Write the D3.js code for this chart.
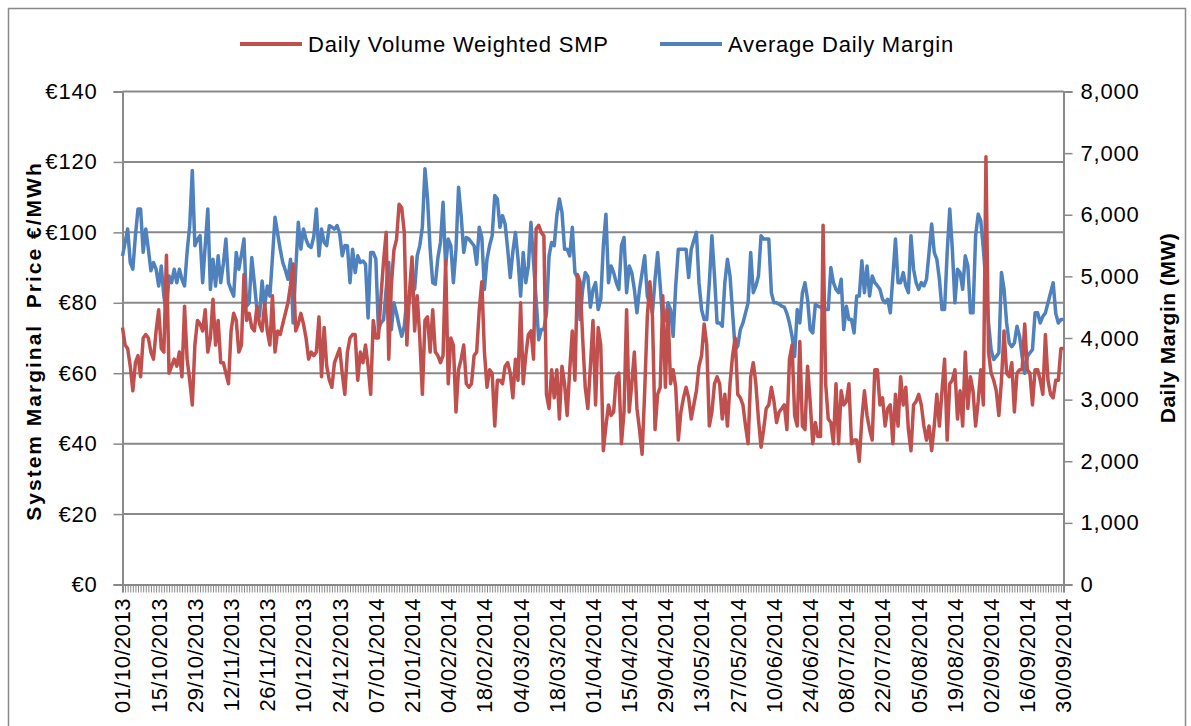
<!DOCTYPE html>
<html>
<head>
<meta charset="utf-8">
<script src="https://cdn.jsdelivr.net/npm/d3@7"></script>
<style>
  body { margin: 0; background: #fff; }
  svg text { font-family: "Liberation Sans", Arial, sans-serif; fill: #000; }
</style>
</head>
<body>
<svg id="chart" width="1191" height="726"></svg>
<script>
// Series names
var seriesNames = ["Daily Volume Weighted SMP", "Average Daily Margin"];

// Tick labels on the date axis (one every 14 days)
var dateLabels = ["01/10/2013", "15/10/2013", "29/10/2013", "12/11/2013", "26/11/2013", "10/12/2013", "24/12/2013",
  "07/01/2014", "21/01/2014", "04/02/2014", "18/02/2014", "04/03/2014", "18/03/2014", "01/04/2014", "15/04/2014",
  "29/04/2014", "13/05/2014", "27/05/2014", "10/06/2014", "24/06/2014", "08/07/2014", "22/07/2014", "05/08/2014",
  "19/08/2014", "02/09/2014", "16/09/2014", "30/09/2014"];

var priceTicks = [0, 20, 40, 60, 80, 100, 120, 140];
var marginTicks = [0, 1000, 2000, 3000, 4000, 5000, 6000, 7000, 8000];

// Daily Volume Weighted SMP (€/MWh), 01/10/2013 .. 30/09/2014
var smp = [
  73, 68, 67, 62, 55, 63, 65, 59, 70, 71, 70, 66, 64, 72, 78, 67, 66, 93.5, 60, 62,
  64, 62, 66, 59, 79, 64, 58, 51, 68, 75, 74, 72, 78, 66, 70, 81, 68, 75, 63, 63,
  60, 57, 72, 77, 75, 66, 68, 88, 75, 77, 73, 72, 79, 74, 72, 80, 72, 68, 82, 66,
  72, 71, 74, 77, 80, 85, 91, 72, 74, 77, 74, 70, 64, 66, 65, 66, 76, 59, 73, 62,
  58, 56, 63, 65, 67, 60, 54, 66, 70, 71, 71, 58, 66, 63, 68, 62, 54, 75, 70, 70,
  82, 92, 100, 64, 85, 95, 98, 108, 107, 100, 68, 83, 93, 72, 82, 70, 54, 75, 76, 66,
  78, 66, 65, 63, 65, 92, 57, 70, 68, 49, 61, 64, 68, 57, 56, 57, 65, 66, 78, 86,
  66, 56, 61, 60, 45, 58, 58, 57, 62, 63, 60, 53, 64, 58, 80, 57, 65, 71, 72, 64,
  101, 102, 100, 99, 54, 50, 61, 53, 61, 47, 62, 57, 48, 61, 72, 58, 88, 86, 70, 56,
  50, 62, 75, 51, 73, 68, 38, 45, 51, 48, 49, 59, 60, 40, 49, 78, 49, 57, 66, 50,
  44, 37, 55, 76, 86, 76, 44, 54, 56, 82, 56, 78, 57, 61, 56, 41, 49, 53, 56, 53,
  47, 51, 55, 62, 65, 74, 68, 45, 49, 57, 59, 57, 47, 54, 45, 57, 65, 70, 54, 53,
  51, 45, 40, 59, 63, 57, 47, 39, 44, 50, 51, 56, 52, 46, 49, 50, 51, 44, 64, 68,
  48, 45, 69, 45, 44, 62, 52, 40, 46, 42, 42, 102, 57, 47, 46, 40, 57, 40, 55, 51,
  52, 57, 40, 41, 41, 35, 47, 55, 48, 44, 41, 61, 61, 51, 53, 45, 50, 51, 40, 54,
  45, 59, 51, 56, 44, 38, 51, 52, 54, 51, 45, 41, 45, 38, 45, 54, 45, 55, 64, 41,
  57, 58, 61, 47, 55, 45, 66, 50, 59, 55, 45, 52, 61, 51, 121.5, 66, 60, 58, 55, 48,
  58, 72, 60, 59, 63, 49, 60, 61, 61, 74, 61, 60, 51, 61, 61, 58, 54, 71, 58, 54,
  53, 58, 58, 67, 67
];

// Average Daily Margin (MW), same days
var margin = [
  5330, 5550, 5770, 5225, 5116, 5660, 6095, 6095, 5390, 5770, 5440, 5090, 5225, 5116, 4844, 5170, 4680, 4408, 5007, 4898,
  5116, 4898, 5116, 4950, 4844, 5400, 5823, 6720, 5497, 5600, 5660, 4898, 5500, 6095, 4789, 5279, 4844, 5333, 4898, 5200,
  5605, 4898, 4780, 4680, 5388, 5116, 5350, 5605, 4517, 4571, 5306, 4900, 4462, 4353, 4925, 4517, 4844, 4680, 5300, 5959,
  5700, 5442, 5225, 5100, 4953, 5279, 4244, 5100, 5877, 5442, 5768, 5600, 5497, 5470, 5650, 6095, 5333, 5768, 5550, 5500,
  5823, 5800, 5768, 5823, 5700, 5333, 5500, 5497, 4898, 5442, 5061, 5333, 5225, 5250, 5200, 4326, 5388, 5388, 5279, 4136,
  4244, 4299, 4800, 5225, 4136, 4571, 4400, 4200, 4027, 4190, 4626, 4571, 5061, 4789, 5333, 5500, 5800, 6748, 6257, 5442,
  4898, 4871, 5300, 5551, 6203, 5170, 5605, 5497, 4898, 5442, 6448, 5986, 5388, 5632, 5605, 5550, 5497, 5197, 5796, 5632,
  4789, 5279, 5500, 5660, 6312, 6257, 5796, 5986, 5850, 5442, 4980, 5400, 5714, 5279, 4680, 5388, 4898, 5170, 5877, 5225,
  4626, 3970, 4136, 4136, 4400, 5333, 5551, 5497, 5986, 6257, 6040, 5442, 5442, 5333, 5796, 5061, 4980, 4299, 4789, 5061,
  5000, 4500, 4789, 4898, 4462, 4626, 5497, 6010, 4898, 5170, 5061, 4898, 4789, 5497, 5632, 4735, 5170, 5061, 4789, 4408,
  4789, 5061, 5333, 4680, 4571, 4408, 4950, 5388, 4850, 4244, 4299, 4571, 4462, 4027, 4850, 5442, 5442, 5442, 5442, 4980,
  5442, 5580, 5714, 4898, 4462, 4299, 4299, 4898, 5660, 5007, 4244, 4244, 4190, 4898, 5279, 5007, 4408, 3810, 3870, 4136,
  4244, 4408, 4571, 5388, 4735, 4844, 5007, 5660, 5605, 5605, 5605, 4735, 4571, 4571, 4550, 4517, 4500, 4400, 4244, 4027,
  3700, 4462, 4244, 4735, 4898, 4626, 4136, 4082, 4544, 4517, 4500, 4462, 4462, 4462, 5143, 4898, 4789, 4735, 4953, 4136,
  4517, 4299, 4299, 4082, 4680, 4680, 5252, 4735, 5170, 4680, 5007, 4898, 4850, 4789, 4626, 4571, 4626, 4408, 5000, 5605,
  4898, 4898, 5061, 4844, 4735, 5660, 5116, 4898, 4789, 4898, 4844, 4950, 5388, 5850, 5388, 5279, 4953, 4462, 4462, 5388,
  6095, 5442, 4571, 5116, 5061, 4789, 5333, 5170, 4408, 4408, 5660, 6010, 5900, 5442, 4898, 4244, 3810, 3650, 3700, 3760,
  5061, 4789, 4244, 3918, 3860, 3918, 4190, 4027, 3700, 3429, 3700, 3760, 3810, 4408, 4408, 4244, 4350, 4408, 4571, 4735,
  4898, 4400, 4244, 4299, 4299
];

var days = d3.range(smp.length);
var colors = ["#C0504D", "#4F81BD"];
var grey = "#898989";

var svg = d3.select("#chart");

// plot area
var plotLeft = 122.5, plotRight = 1063.5, plotTop = 91.5, plotBottom = 584.5;

var x = d3.scaleLinear().domain([0, days.length - 1]).range([plotLeft, plotRight]);
var yPrice = d3.scaleLinear().domain([0, 140]).range([plotBottom, plotTop]);
var yMargin = d3.scaleLinear().domain([0, 8000]).range([plotBottom, plotTop]);

// outer frame
svg.append("rect")
  .attr("x", 8.5).attr("y", 8.5)
  .attr("width", 1177).attr("height", 760)
  .attr("fill", "#fff")
  .attr("stroke", grey).attr("stroke-width", 1.5);

// gridlines
svg.append("g")
  .selectAll("line")
  .data(priceTicks.slice(1))
  .enter().append("line")
  .attr("x1", plotLeft).attr("x2", plotRight)
  .attr("y1", d => yPrice(d)).attr("y2", d => yPrice(d))
  .attr("stroke", grey).attr("stroke-width", 2);

// left axis
var gLeft = svg.append("g")
  .attr("transform", "translate(" + plotLeft + ",0)")
  .call(d3.axisLeft(yPrice).tickValues(priceTicks).tickFormat(d => "€" + d).tickSize(9).tickPadding(16));

// right axis
var gRight = svg.append("g")
  .attr("transform", "translate(" + plotRight + ",0)")
  .call(d3.axisRight(yMargin).tickValues(marginTicks).tickFormat(d3.format(",")).tickSize(9).tickPadding(8));

// bottom axis, one tick per day
var gBottom = svg.append("g")
  .attr("transform", "translate(0," + plotBottom + ")")
  .call(d3.axisBottom(x).tickValues(days).tickSize(8).tickFormat(""));

[gLeft, gRight, gBottom].forEach(function (g) {
  g.select(".domain").attr("stroke", grey).attr("stroke-width", 2);
  g.selectAll(".tick line").attr("stroke", grey).attr("stroke-width", 1.5);
});
gBottom.selectAll(".tick line").attr("stroke-width", 1);

gLeft.selectAll("text").attr("font-size", 22).attr("letter-spacing", 0.8).attr("font-family", "Liberation Sans");
gRight.selectAll("text").attr("font-size", 22).attr("letter-spacing", 0.8).attr("font-family", "Liberation Sans");

// date labels, rotated
svg.append("g")
  .selectAll("text")
  .data(dateLabels)
  .enter().append("text")
  .attr("transform", (d, i) => "translate(" + x(i * 14) + ",598) rotate(-90)")
  .attr("text-anchor", "end")
  .attr("dy", "0.36em")
  .attr("font-size", 22)
  .attr("letter-spacing", 0.5)
  .text(d => d);

// axis titles
svg.append("text")
  .attr("transform", "translate(33,341) rotate(-90)")
  .attr("text-anchor", "middle")
  .attr("dy", "0.36em")
  .attr("font-size", 21)
  .attr("font-weight", "bold")
  .attr("letter-spacing", 2)
  .style("white-space", "pre")
  .text("System Marginal  Price €/MWh");

svg.append("text")
  .attr("transform", "translate(1167,328) rotate(-90)")
  .attr("text-anchor", "middle")
  .attr("dy", "0.36em")
  .attr("font-size", 21)
  .attr("font-weight", "bold")
  .attr("letter-spacing", 0.5)
  .text("Daily Margin (MW)");

// lines
var lineMargin = d3.line().x((d, i) => x(i)).y(d => yMargin(d));
var linePrice = d3.line().x((d, i) => x(i)).y(d => yPrice(d));

svg.append("path")
  .datum(margin)
  .attr("d", lineMargin)
  .attr("fill", "none")
  .attr("stroke", colors[1])
  .attr("stroke-width", 3.5)
  .attr("stroke-linejoin", "round");

svg.append("path")
  .datum(smp)
  .attr("d", linePrice)
  .attr("fill", "none")
  .attr("stroke", colors[0])
  .attr("stroke-width", 3.5)
  .attr("stroke-linejoin", "round");

// legend
var legendX = [240, 660];
var legend = svg.append("g")
  .selectAll("g")
  .data(seriesNames)
  .enter().append("g")
  .attr("transform", (d, i) => "translate(" + legendX[i] + ",44)");

legend.append("line")
  .attr("x1", 0).attr("x2", 62)
  .attr("stroke", (d, i) => colors[i])
  .attr("stroke-width", 4);

legend.append("text")
  .attr("x", 68)
  .attr("dy", "0.36em")
  .attr("font-size", 22)
  .attr("letter-spacing", 0.8)
  .text(d => d);
</script>
</body>
</html>
